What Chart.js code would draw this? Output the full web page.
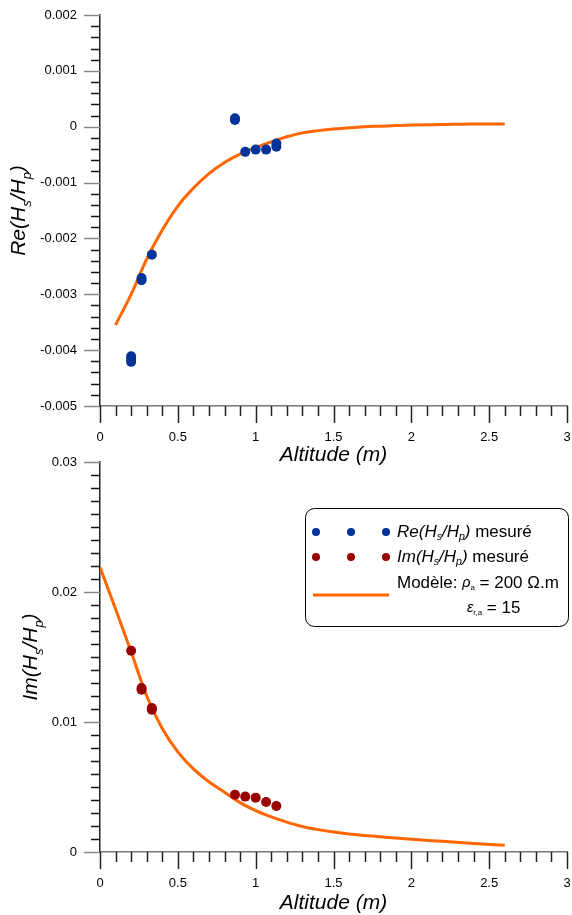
<!DOCTYPE html>
<html>
<head>
<meta charset="utf-8">
<script src="https://cdn.jsdelivr.net/npm/chart.js@4.4.0/dist/chart.umd.min.js"></script>
<style>
  body { margin: 0; background: #fff; }
  #wrap { position: relative; width: 572px; height: 915px; }
  canvas { position: absolute; left: 0; }
  #reChart { top: 0; }
  #imChart { top: 450px; }
</style>
</head>
<body>
<div id="wrap">
  <canvas id="reChart" width="572" height="470"></canvas>
  <canvas id="imChart" width="572" height="465"></canvas>
</div>
<script>
const reAlt  = [0.2, 0.2, 0.2, 0.267, 0.267, 0.333, 0.867, 0.867, 0.933, 1.0, 1.067, 1.133, 1.133];
const reMeas = [-0.00411, -0.00416, -0.00421, -0.00271, -0.00275, -0.00229, 0.00012, 0.00015, -0.00045, -0.00041, -0.00041, -0.00030, -0.00036];

const imAlt  = [0.2, 0.267, 0.267, 0.333, 0.333, 0.867, 0.933, 1.0, 1.067, 1.133];
const imMeas = [0.01548, 0.01262, 0.01248, 0.01108, 0.01095, 0.0044, 0.00426, 0.00418, 0.00385, 0.00354];

// model curves (rho_a = 200 ohm.m, eps_r,a = 15)
const reModelAlt = [0.1, 0.2, 0.3, 0.4, 0.5, 0.6, 0.7, 0.8, 0.9, 1.0, 1.1, 1.2, 1.3, 1.4, 1.5, 1.6, 1.7, 1.8, 1.9, 2.0, 2.2, 2.4, 2.6];
const reModel = [-0.00355, -0.00300, -0.00237, -0.00185, -0.00142, -0.00110, -0.00084, -0.00064, -0.00049, -0.00037, -0.00027, -0.00018, -0.00011, -0.00007, -0.00004, -0.00002, 0, 0.00001, 0.00002, 0.00003, 0.00004, 0.00005, 0.00005];

const imModelAlt = [0, 0.1, 0.2, 0.3, 0.4, 0.5, 0.6, 0.7, 0.8, 0.9, 1.0, 1.1, 1.2, 1.3, 1.4, 1.5, 1.6, 1.7, 1.8, 1.9, 2.0, 2.2, 2.4, 2.6];
const imModel = [0.0219, 0.0187, 0.0154, 0.0120, 0.0095, 0.0077, 0.0064, 0.0054, 0.0046, 0.0038, 0.00318, 0.0027, 0.0023, 0.00196, 0.00172, 0.00153, 0.00139, 0.00127, 0.00117, 0.00107, 0.00098, 0.00082, 0.00066, 0.00052];

const xTicks = ['0', '0.5', '1', '1.5', '2', '2.5', '3'];
const reTicks = ['-0.005', '-0.004', '-0.003', '-0.002', '-0.001', '0', '0.001', '0.002'];
const imTicks = ['0', '0.01', '0.02', '0.03'];

const FONT = '"Liberation Sans", Arial, sans-serif';
const BLUE = '#003399';
const RED = '#990000';
const ORANGE = '#ff6600';

function pairs(xs, ys) {
  return xs.map((x, i) => ({x: x, y: ys[i]}));
}

function fontOf(s, size) {
  let sz = size * (s.sub ? 0.62 : 1) * (s.k || 1);
  return (s.it ? 'italic ' : '') + sz.toFixed(1) + 'px ' + FONT;
}

// text with italic parts and subscripts
function rich(ctx, segs, x, y, size, center) {
  let w = 0;
  segs.forEach(s => { ctx.font = fontOf(s, size); w += ctx.measureText(s.t).width; });
  let cx = center ? x - w / 2 : x;
  segs.forEach(s => {
    ctx.font = fontOf(s, size);
    ctx.fillText(s.t, cx, y + (s.sub ? size * 0.3 : 0));
    cx += ctx.measureText(s.t).width;
  });
}

function hsHp(pre) {
  return [{t: pre + '(H', it: true}, {t: 's', it: true, sub: true}, {t: '/H', it: true}, {t: 'p', it: true, sub: true}, {t: ')', it: true}];
}

const deco = {
  id: 'deco',
  afterDraw(chart, args, o) {
    const ctx = chart.ctx, xs = chart.scales.x, ys = chart.scales.y;
    ctx.save();
    // y ticks, major and minor
    let n = Math.round((ys.max - ys.min) / o.yMinor);
    for (let i = 0; i <= n; i++) {
      let p = Math.round(ys.getPixelForValue(ys.min + i * o.yMinor)) + 0.5;
      let major = i % o.yEvery === 0;
      ctx.strokeStyle = major ? '#888' : '#111';
      ctx.lineWidth = 1.5;
      ctx.beginPath();
      ctx.moveTo(xs.left - (major ? 16 : 9), p);
      ctx.lineTo(xs.left, p);
      ctx.stroke();
    }
    // x ticks
    n = Math.round((xs.max - xs.min) / o.xMinor);
    for (let i = 0; i <= n; i++) {
      let p = Math.round(xs.getPixelForValue(xs.min + i * o.xMinor)) + 0.5;
      let major = i % o.xEvery === 0;
      ctx.strokeStyle = '#222';
      ctx.lineWidth = 1.5;
      ctx.beginPath();
      ctx.moveTo(p, ys.bottom);
      ctx.lineTo(p, ys.bottom + (major ? 17 : 10));
      ctx.stroke();
    }
    ctx.fillStyle = '#000';
    ctx.textBaseline = 'middle';
    ctx.font = 'italic 21px ' + FONT;
    ctx.textAlign = 'center';
    ctx.fillText('Altitude (m)', (xs.left + xs.right) / 2, o.xTitleY);
    ctx.textAlign = 'left';
    ctx.textBaseline = 'alphabetic';
    ctx.save();
    ctx.translate(o.yTitleX, (ys.top + ys.bottom) / 2);
    ctx.rotate(-Math.PI / 2);
    rich(ctx, hsHp(o.yName), 0, 0, 21, true);
    ctx.restore();

    if (o.legend) {
      const L = o.legend;
      ctx.strokeStyle = '#000';
      ctx.lineWidth = 1;
      ctx.beginPath();
      ctx.roundRect(L.x + 0.5, L.y + 0.5, L.w, L.h, 9);
      ctx.stroke();
      ctx.textBaseline = 'middle';
      const rows = [[BLUE, 'Re'], [RED, 'Im']];
      rows.forEach((r, k) => {
        let yy = L.y + 24 + k * 25;
        ctx.fillStyle = r[0];
        [11, 46, 81].forEach(dx => {
          ctx.beginPath();
          ctx.arc(L.x + dx, yy, 4, 0, Math.PI * 2);
          ctx.fill();
        });
        ctx.fillStyle = '#000';
        rich(ctx, hsHp(r[1]).concat([{t: ' mesuré'}]), L.x + 92, yy, 17, false);
      });
      ctx.strokeStyle = ORANGE;
      ctx.lineWidth = 3;
      ctx.beginPath();
      ctx.moveTo(L.x + 8, L.y + 87);
      ctx.lineTo(L.x + 84, L.y + 87);
      ctx.stroke();
      ctx.fillStyle = '#000';
      rich(ctx, [{t: 'Modèle: '}, {t: 'ρ', it: true, k: 0.85}, {t: 'a', sub: true, k: 0.75}, {t: ' = 200 Ω.m'}], L.x + 92, L.y + 75, 17, false);
      rich(ctx, [{t: 'ε', it: true, k: 0.85}, {t: 'r,a', sub: true, k: 0.75}, {t: ' = 15'}], L.x + 162, L.y + 100, 17, false);
    }
    ctx.restore();
  }
};

function makeChart(id, cfg) {
  return new Chart(document.getElementById(id), {
    type: 'scatter',
    data: {
      datasets: [
        {
          data: pairs(cfg.mx, cfg.my),
          backgroundColor: cfg.color,
          borderWidth: 0,
          pointRadius: 5,
          pointHoverRadius: 5
        },
        {
          data: pairs(cfg.lx, cfg.ly),
          showLine: true,
          borderColor: ORANGE,
          borderWidth: 3,
          pointRadius: 0,
          cubicInterpolationMode: 'monotone',
          fill: false
        }
      ]
    },
    options: {
      responsive: false,
      animation: false,
      events: [],
      layout: {padding: {left: 0, top: cfg.top, right: 0, bottom: 0}},
      plugins: {
        legend: {display: false},
        tooltip: {enabled: false},
        deco: cfg.deco
      },
      scales: {
        x: {
          type: 'linear',
          min: 0, max: 3,
          afterFit: s => { s.height = cfg.xh; },
          afterBuildTicks: s => { s.ticks = xTicks.map(t => ({value: Number(t)})); },
          // invisible tick marks only push the labels away from the axis
          grid: {display: true, drawOnChartArea: false, drawTicks: true, tickLength: 24, color: 'rgba(0,0,0,0)'},
          border: {display: true, color: '#777', width: 1.5},
          ticks: {
            autoSkip: false, maxRotation: 0, padding: 0, color: '#000',
            font: {family: FONT, size: 13},
            callback: v => String(v)
          }
        },
        y: {
          type: 'linear',
          min: cfg.ymin, max: cfg.ymax,
          afterFit: s => { s.width = 100; },
          afterBuildTicks: s => { s.ticks = cfg.yTicks.map(t => ({value: Number(t)})); },
          grid: {display: true, drawOnChartArea: false, drawTicks: true, tickLength: 23, color: 'rgba(0,0,0,0)'},
          border: {display: true, color: '#222', width: 1.5},
          ticks: {
            autoSkip: false, padding: 0, color: '#000',
            font: {family: FONT, size: 13},
            callback: v => String(Number(v.toFixed(4)))
          }
        }
      }
    },
    plugins: [deco]
  });
}

makeChart('reChart', {
  mx: reAlt, my: reMeas, lx: reModelAlt, ly: reModel, color: BLUE,
  ymin: -0.005, ymax: 0.002, yTicks: reTicks,
  top: 15, xh: 64,
  deco: {yMinor: 0.0002, yEvery: 5, xMinor: 0.1, xEvery: 5, xTitleY: 455, yTitleX: 25, yName: 'Re'}
});

makeChart('imChart', {
  mx: imAlt, my: imMeas, lx: imModelAlt, ly: imModel, color: RED,
  ymin: 0, ymax: 0.03, yTicks: imTicks,
  top: 12, xh: 63,
  deco: {yMinor: 0.001, yEvery: 10, xMinor: 0.1, xEvery: 5, xTitleY: 453, yTitleX: 37, yName: 'Im',
         legend: {x: 305, y: 58, w: 263, h: 118}}
});
</script>
</body>
</html>
